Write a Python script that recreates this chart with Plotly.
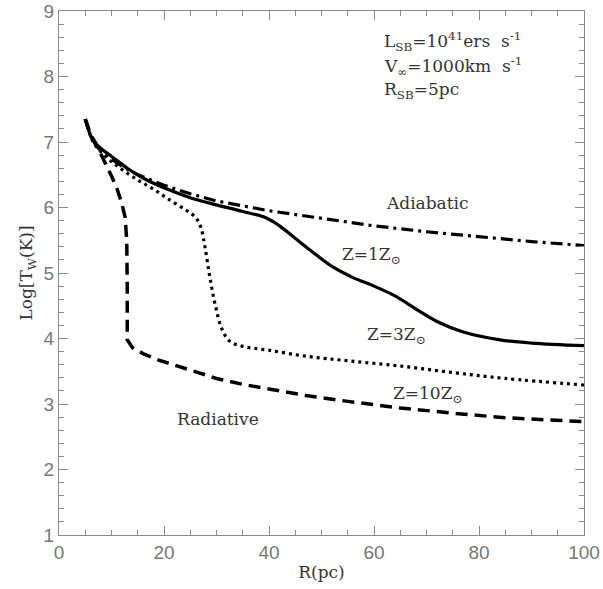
import plotly.graph_objects as go

# Data
r_adi = [5, 6, 7, 8, 10, 12, 15, 20, 25, 30, 40, 50, 60, 70, 80, 90, 100]
t_adi = [7.35, 7.1, 6.95, 6.86, 6.74, 6.63, 6.5, 6.34, 6.21, 6.1, 5.95, 5.83, 5.72, 5.63, 5.55, 5.48, 5.42]

r_z1 = [5, 6.5, 8, 10, 13, 16, 20, 25, 30, 35, 39.5, 42, 45, 48, 52, 56, 60, 64, 68, 72, 77, 84, 90, 100]
t_z1 = [7.35, 7.02, 6.9, 6.78, 6.6, 6.45, 6.3, 6.15, 6.04, 5.94, 5.84, 5.72, 5.53, 5.34, 5.1, 4.93, 4.8, 4.65, 4.45, 4.26, 4.1, 3.98, 3.93, 3.89]

r_z3 = [5, 6.5, 8, 10, 12, 15, 18, 21, 24, 26, 27, 27.8, 28.7, 29.8, 31, 32.5, 35, 40, 47, 55, 65, 75, 85, 100]
t_z3 = [7.35, 7.0, 6.85, 6.7, 6.58, 6.42, 6.28, 6.12, 5.97, 5.85, 5.7, 5.4, 4.95, 4.5, 4.15, 3.96, 3.88, 3.82, 3.73, 3.66, 3.58, 3.48, 3.39, 3.29]

r_z10 = [5, 6, 7, 8, 9, 10, 11, 12, 12.6, 12.9, 13, 13, 14, 16, 19, 22, 26, 30, 35, 40, 47, 55, 65, 75, 85, 100]
t_z10 = [7.35, 7.12, 6.98, 6.82, 6.65, 6.48, 6.3, 6.05, 5.85, 5.5, 4.8, 3.98, 3.86, 3.77, 3.67, 3.59, 3.49, 3.39, 3.3, 3.23, 3.13, 3.04, 2.94, 2.86, 2.79, 2.73]

x_ticks = [0, 20, 40, 60, 80, 100]
y_ticks = [1, 2, 3, 4, 5, 6, 7, 8, 9]

fig = go.Figure()
fig.add_trace(go.Scatter(x=r_adi, y=t_adi, mode="lines",
                         line=dict(color="black", width=3.2, dash="12px,5px,3px,5px")))
fig.add_trace(go.Scatter(x=r_z1, y=t_z1, mode="lines",
                         line=dict(color="black", width=3.2, shape="spline")))
fig.add_trace(go.Scatter(x=r_z3, y=t_z3, mode="lines",
                         line=dict(color="black", width=3.2, dash="3px,4px", shape="spline")))
fig.add_trace(go.Scatter(x=r_z10, y=t_z10, mode="lines",
                         line=dict(color="black", width=3.5, dash="12px,7px")))

serif = "DejaVu Serif"
anns = [
    (61.5, 8.54, "L<sub>SB</sub>=10<sup>41</sup>ers  s<sup>-1</sup>", "left"),
    (61.5, 8.16, "V<sub>∞</sub>=1000km  s<sup>-1</sup>", "left"),
    (61.5, 7.78, "R<sub>SB</sub>=5pc", "left"),
    (70.2, 6.07, "Adiabatic", "center"),
    (59.5, 5.26, "Z=1Z<sub>⊙</sub>", "center"),
    (64.2, 4.04, "Z=3Z<sub>⊙</sub>", "center"),
    (70.2, 3.15, "Z=10Z<sub>⊙</sub>", "center"),
    (30.2, 2.77, "Radiative", "center"),
]
for x, y, t, al in anns:
    fig.add_annotation(x=x, y=y, text=t, showarrow=False, xanchor=al, yanchor="middle",
                       font=dict(family=serif, size=17, color="#333"))

axis_common = dict(showgrid=False, zeroline=False, showline=True, linecolor="#888",
                   linewidth=1.2, mirror="ticks", ticks="inside", tickcolor="#888",
                   ticklen=9, tickwidth=1, automargin=False, ticklabeloverflow="allow",
                   tickfont=dict(family="Liberation Sans", size=19, color="#777"))

fig.update_xaxes(range=[0, 100], tickvals=x_ticks, ticktext=[str(v) for v in x_ticks],
                 minor=dict(dtick=5, ticks="inside", ticklen=5, tickcolor="#888"),
                 title=dict(text="R(pc)", font=dict(family=serif, size=17, color="#333"), standoff=4),
                 **axis_common)
fig.update_yaxes(range=[1, 9], tickvals=y_ticks, ticktext=[str(v) for v in y_ticks],
                 minor=dict(dtick=0.2, ticks="inside", ticklen=5, tickcolor="#888"),
                 title=dict(text="Log[T<sub>W</sub>(K)]", font=dict(family=serif, size=17, color="#333"), standoff=6),
                 **axis_common)

fig.update_layout(width=603, height=589, showlegend=False,
                  margin=dict(l=59, r=19, t=11, b=54),
                  plot_bgcolor="white", paper_bgcolor="white")

fig.write_html("out.html")
